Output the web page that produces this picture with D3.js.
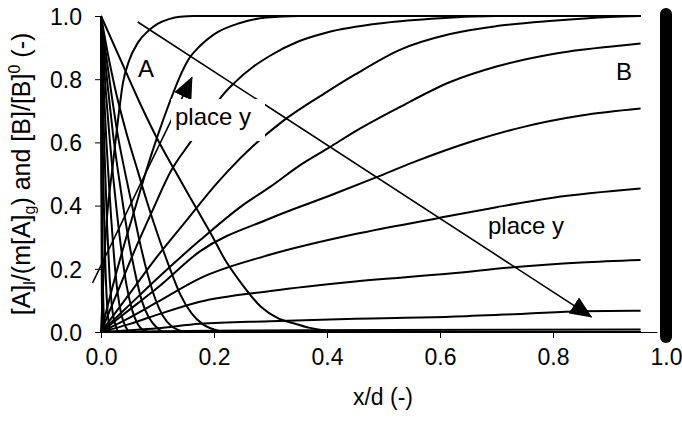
<!DOCTYPE html>
<html>
<head>
<meta charset="utf-8">
<script src="https://cdn.jsdelivr.net/npm/d3@7"></script>
<style>
  body { margin: 0; background: #fff; }
  svg { display: block; }
  text { font-family: "Liberation Sans", Arial, sans-serif; fill: #000; }
</style>
</head>
<body>
<svg id="chart" width="682" height="424"></svg>
<script>
// Axis ticks
const xTicks = [0, 0.2, 0.4, 0.6, 0.8, 1.0];
const yTicks = [0, 0.2, 0.4, 0.6, 0.8, 1.0];

// Dimensionless A profiles [x/d, [A]l/(m[A]g)], widest penetration first
const profileA1 = [[0,1],[0.03,0.88],[0.07,0.72],[0.1,0.61],[0.131,0.51],[0.166,0.40],[0.198,0.30],[0.219,0.23],[0.248,0.155],[0.283,0.08],[0.313,0.044],[0.34,0.028],[0.37,0.013],[0.40,0.004],[0.43,0],[0.955,0]];
const profileA2 = [[0,1],[0.01,0.9],[0.025,0.77],[0.045,0.63],[0.065,0.51],[0.08,0.42],[0.1,0.31],[0.12,0.21],[0.14,0.12],[0.16,0.06],[0.18,0.025],[0.2,0.008],[0.22,0],[0.955,0]];
const profileA3 = [[0,1],[0.008,0.89],[0.018,0.76],[0.03,0.62],[0.042,0.51],[0.055,0.4],[0.068,0.29],[0.08,0.2],[0.095,0.11],[0.11,0.05],[0.125,0.018],[0.14,0.004],[0.15,0],[0.955,0]];
const profileA4 = [[0,1],[0.006,0.88],[0.013,0.76],[0.021,0.63],[0.03,0.51],[0.04,0.39],[0.05,0.28],[0.06,0.19],[0.072,0.1],[0.085,0.045],[0.1,0.012],[0.11,0],[0.955,0]];
const profileA5 = [[0,1],[0.004,0.88],[0.009,0.75],[0.015,0.62],[0.021,0.5],[0.028,0.38],[0.036,0.26],[0.045,0.15],[0.055,0.07],[0.065,0.025],[0.075,0.005],[0.085,0],[0.955,0]];
const profileA6 = [[0,1],[0.003,0.86],[0.006,0.73],[0.009,0.62],[0.013,0.5],[0.018,0.36],[0.023,0.24],[0.029,0.13],[0.036,0.055],[0.044,0.015],[0.052,0],[0.955,0]];
const profileA7 = [[0,1],[0.002,0.84],[0.004,0.7],[0.0075,0.5],[0.011,0.33],[0.015,0.18],[0.02,0.07],[0.026,0.02],[0.032,0],[0.955,0]];
const profileA8 = [[0,1],[0.001,0.85],[0.0025,0.66],[0.004,0.5],[0.006,0.32],[0.009,0.15],[0.013,0.04],[0.018,0],[0.955,0]];
const profileA9 = [[0,1],[0.0008,0.6],[0.0015,0.45],[0.003,0.2],[0.005,0.05],[0.008,0],[0.955,0]];
const profileA10 = [[0,1],[0.0005,0.5],[0.0015,0.12],[0.003,0],[0.955,0]];

// Dimensionless B profiles [x/d, [B]/[B]0], highest bulk value first
const profileB1 = [[0,0],[0.005,0.2],[0.01,0.35],[0.021,0.53],[0.03,0.67],[0.039,0.79],[0.05,0.86],[0.065,0.915],[0.083,0.952],[0.1,0.975],[0.12,0.99],[0.14,0.998],[0.165,1.0],[0.955,1.0]];
const profileB2 = [[0,0],[0.02,0.14],[0.04,0.27],[0.06,0.39],[0.08,0.51],[0.1,0.62],[0.12,0.72],[0.14,0.81],[0.154,0.86],[0.175,0.905],[0.2,0.942],[0.246,0.978],[0.293,0.995],[0.35,1.0],[0.955,1.0]];
const profileB3 = [[0,0],[0.03,0.13],[0.06,0.26],[0.09,0.38],[0.124,0.51],[0.158,0.6],[0.19,0.68],[0.21,0.737],[0.237,0.79],[0.27,0.84],[0.3,0.875],[0.35,0.92],[0.4,0.948],[0.5,0.978],[0.6,0.993],[0.7,1.0],[0.955,1.0]];
const profileB4 = [[0,0],[0.05,0.12],[0.1,0.24],[0.15,0.35],[0.2,0.46],[0.225,0.51],[0.27,0.59],[0.32,0.665],[0.4,0.76],[0.45,0.815],[0.529,0.893],[0.618,0.943],[0.7,0.968],[0.8,0.985],[0.9,0.997],[0.955,1.0]];
const profileB5 = [[0,0],[0.05,0.085],[0.1,0.17],[0.175,0.29],[0.25,0.4],[0.3,0.46],[0.35,0.525],[0.405,0.585],[0.45,0.635],[0.529,0.712],[0.618,0.791],[0.7,0.84],[0.8,0.88],[0.9,0.903],[0.955,0.913]];
const profileB6 = [[0,0],[0.05,0.07],[0.1,0.14],[0.175,0.255],[0.3,0.36],[0.41,0.435],[0.488,0.49],[0.55,0.535],[0.66,0.605],[0.75,0.65],[0.85,0.685],[0.955,0.707]];
const profileB7 = [[0,0],[0.05,0.045],[0.1,0.095],[0.175,0.17],[0.3,0.245],[0.45,0.31],[0.596,0.36],[0.7,0.395],[0.8,0.425],[0.955,0.454]];
const profileB8 = [[0,0],[0.05,0.025],[0.1,0.055],[0.175,0.096],[0.3,0.13],[0.45,0.16],[0.618,0.185],[0.729,0.205],[0.85,0.22],[0.955,0.228]];
const profileB9 = [[0,0],[0.1,0.012],[0.175,0.026],[0.3,0.034],[0.45,0.042],[0.618,0.048],[0.75,0.058],[0.85,0.066],[0.955,0.067]];
const profileB10 = [[0,0],[0.1,0.002],[0.25,0.005],[0.5,0.006],[0.955,0.008]];

const profilesA = [profileA1, profileA2, profileA3, profileA4, profileA5, profileA6, profileA7, profileA8, profileA9, profileA10];
const profilesB = [profileB1, profileB2, profileB3, profileB4, profileB5, profileB6, profileB7, profileB8, profileB9, profileB10];

// Direction arrows for increasing column position
const arrowUp = [[-0.015, 0.155], [0.161, 0.806]];
const arrowDown = [[0.065, 0.981], [0.868, 0.048]];

const svg = d3.select("#chart");
const x = d3.scaleLinear().domain([0, 1]).range([101, 666]);
const y = d3.scaleLinear().domain([0, 1]).range([332, 16]);

const line = d3.line().x(d => x(d[0])).y(d => y(d[1])).curve(d3.curveMonotoneX);

// Profiles
const curves = svg.append("g").attr("fill", "none").attr("stroke", "#000")
  .attr("stroke-width", 2).attr("stroke-linejoin", "round");
profilesA.concat(profilesB).forEach(p => curves.append("path").attr("d", line(p)));

// Arrows with filled triangular heads
svg.append("defs").append("marker")
  .attr("id", "head").attr("viewBox", "0 0 22 19").attr("refX", 21).attr("refY", 9.5)
  .attr("markerWidth", 22).attr("markerHeight", 19).attr("markerUnits", "userSpaceOnUse")
  .attr("orient", "auto")
  .append("path").attr("d", "M0,0 L22,9.5 L0,19 Z").attr("fill", "#000");

[arrowUp, arrowDown].forEach(a => {
  svg.append("line")
    .attr("x1", x(a[0][0])).attr("y1", y(a[0][1]))
    .attr("x2", x(a[1][0])).attr("y2", y(a[1][1]))
    .attr("stroke", "#000").attr("stroke-width", 1.6)
    .attr("marker-end", "url(#head)");
});

// Text labels, the upper one on a white box
const labelFont = 24;
svg.append("rect").attr("x", 171).attr("y", 99).attr("width", 94).attr("height", 42).attr("fill", "#fff");
svg.append("text").attr("x", 175).attr("y", 125).attr("font-size", labelFont).text("place y");
svg.append("text").attr("x", 488).attr("y", 234).attr("font-size", labelFont).text("place y");
svg.append("text").attr("x", 138).attr("y", 77).attr("font-size", labelFont).text("A");
svg.append("text").attr("x", 616).attr("y", 80).attr("font-size", labelFont).text("B");

// Film boundary on the bulk side
svg.append("line").attr("x1", x(1)).attr("x2", x(1)).attr("y1", y(1.0) - 2).attr("y2", y(0) + 5)
  .attr("stroke", "#000").attr("stroke-width", 12).attr("stroke-linecap", "round");

// Axes
const tickFont = 23;
const xAxis = svg.append("g").attr("transform", `translate(0,${y(0)})`)
  .call(d3.axisBottom(x).tickValues(xTicks).tickFormat(d3.format(".1f")).tickSize(6).tickSizeOuter(0));
const yAxis = svg.append("g").attr("transform", `translate(${x(0)},0)`)
  .call(d3.axisLeft(y).tickValues(yTicks).tickFormat(d3.format(".1f")).tickSize(6).tickSizeOuter(0));
[xAxis, yAxis].forEach(g => {
  g.select(".domain").attr("stroke", "#000").attr("stroke-width", 1);
  g.selectAll(".tick line").attr("stroke", "#000");
  g.selectAll("text").attr("font-size", tickFont).attr("font-family", null).attr("fill", "#000");
});
xAxis.select(".domain").attr("d", `M${x(0)},0.5H${x(0.985)}`);
xAxis.selectAll(".tick text").attr("dy", null).attr("y", 33);
yAxis.selectAll(".tick text").attr("x", -19).attr("dy", "0.36em");

// Axis titles
svg.append("text").attr("x", 383).attr("y", 405).attr("text-anchor", "middle").attr("font-size", tickFont).text("x/d (-)");

const yt = svg.append("text").attr("transform", "translate(30,174) rotate(-90)")
  .attr("text-anchor", "middle").attr("font-size", 25);
yt.append("tspan").text("[A]");
yt.append("tspan").attr("font-size", 16).attr("dy", 5).text("l");
yt.append("tspan").attr("dy", -5).text("/(m[A]");
yt.append("tspan").attr("font-size", 16).attr("dy", 5).text("g");
yt.append("tspan").attr("dy", -5).text(") and [B]/[B]");
yt.append("tspan").attr("font-size", 16).attr("dy", -10).text("0");
yt.append("tspan").attr("dy", 10).text(" (-)");
</script>
</body>
</html>
